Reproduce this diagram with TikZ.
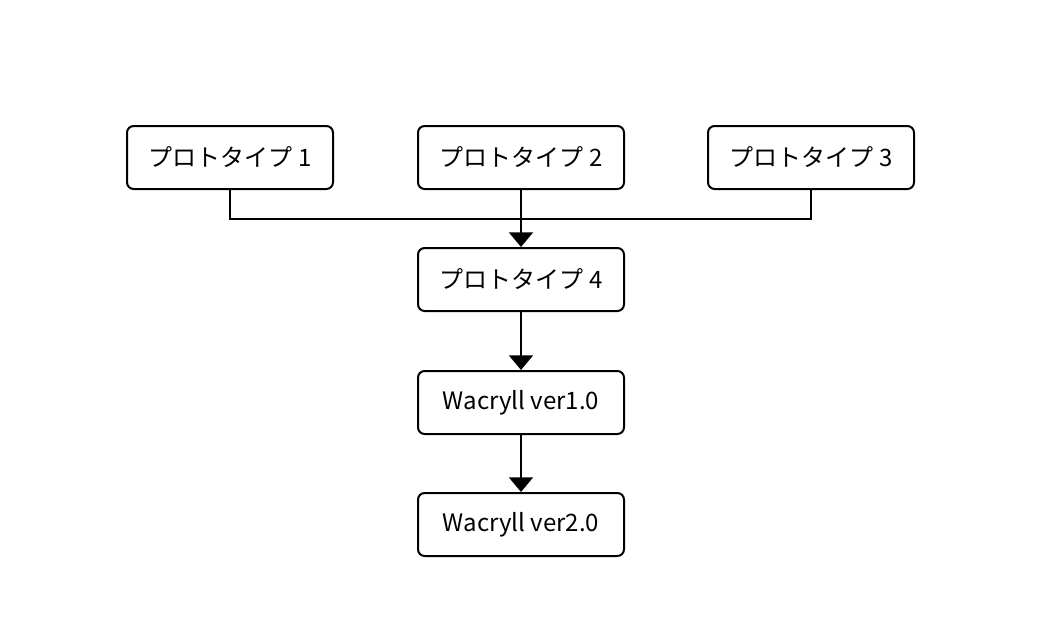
\documentclass[tikz,border=0pt]{standalone}
\usepackage{fontspec}
\setmainfont{Noto Sans CJK JP}
\usetikzlibrary{arrows.meta}
\begin{document}
\begin{tikzpicture}[x=0.75pt,y=-0.75pt]
\tikzset{
  box/.style={draw, line width=1.5pt, rounded corners=5pt, minimum width=206*0.75pt, minimum height=63*0.75pt, inner sep=0pt, font=\fontsize{18pt}{21pt}\selectfont},
  conn/.style={line width=1.3pt},
  arr/.style={conn, -{Triangle[width=18pt,length=11pt]}}
}
\useasboundingbox (0,0) rectangle (1043,640);
\node[box] (p1) at (230,157.5) {プロトタイプ\hspace{5pt}1};
\node[box] (p2) at (521,157.5) {プロトタイプ\hspace{5pt}2};
\node[box] (p3) at (811,157.5) {プロトタイプ\hspace{5pt}3};
\node[box] (p4) at (521,279.5) {プロトタイプ\hspace{5pt}4};
\node[box] (w1) at (521,402.5) {Wacryll ver1.0};
\node[box] (w2) at (521,524.5) {Wacryll ver2.0};
\coordinate (j1) at (230,219);
\coordinate (j3) at (811,219);
\draw[conn] (p1.south) -- (j1) -- (j3) -- (p3.south);
\draw[arr] (p2.south) -- (p4.north);
\draw[arr] (p4.south) -- (w1.north);
\draw[arr] (w1.south) -- (w2.north);
\end{tikzpicture}
\end{document}
